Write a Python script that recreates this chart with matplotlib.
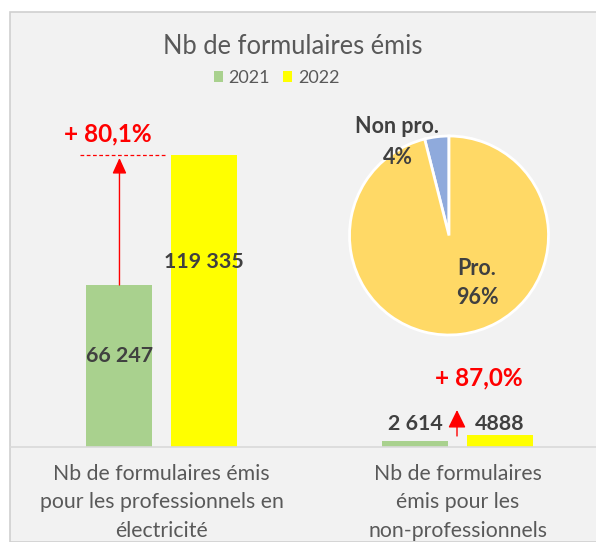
import matplotlib
matplotlib.use("Agg")
import matplotlib.pyplot as plt
from matplotlib.patches import Rectangle

# data
categories = ["Nb de formulaires émis\npour les professionnels en\nélectricité",
              "Nb de formulaires\némis pour les\nnon-professionnels"]
years = ["2021", "2022"]
v2021 = [66247, 2614]
v2022 = [119335, 4888]
labels2021 = ["66 247", "2 614"]
labels2022 = ["119 335", "4888"]
growth = ["+ 80,1%", "+ 87,0%"]
pie_labels = ["Non pro.", "Pro."]
pie_values = [v2022[1], v2022[0]]

green = "#A9D18E"
yellow = "#FFFF00"
red = "#FF0000"
dark = "#404040"
grey = "#595959"

plt.rcParams["font.family"] = ["Lato", "DejaVu Sans"]

W, H = 596, 542
fig = plt.figure(figsize=(W / 100, H / 100), dpi=100)
fig.patch.set_facecolor("white")

# chart area background
fig.patches.append(Rectangle((10 / W, 0), 1, 1 - 12 / H, transform=fig.transFigure,
                             facecolor="#F2F2F2", edgecolor="#D0D0D0", lw=1.2, zorder=-5))

def fx(px):
    return px / W

def fy(py):
    return 1 - py / H

# main bar axes
base = 447
top = 100
ax = fig.add_axes([fx(10), fy(base), fx(596) - fx(10), fy(top) - fy(base)])
ax.patch.set_alpha(0)
ppu = (base - 285) / v2021[0]
ax.set_ylim(0, (base - top) / ppu)
x0, cw = 161.5, 296
ax.set_xlim((10 - x0) / cw, (596 - x0) / cw)

def dx(px, c=0):
    return c + (px - (x0 + cw * c)) / cw

def dy(py):
    return (base - py) / ppu

bw = 0.223
off = 0.142
xs = [0, 1]
ax.bar([x - off for x in xs], v2021, bw, color=green, label=years[0])
ax.bar([x + off for x in xs], v2022, bw, color=yellow, label=years[1])

for s in ["top", "left", "right"]:
    ax.spines[s].set_visible(False)
ax.spines["bottom"].set_color("#D9D9D9")
ax.spines["bottom"].set_linewidth(1.2)
ax.set_yticks([])
ax.set_xticks(xs)
ax.set_xticklabels(categories, fontsize=15.3, color=grey, linespacing=1.55)
ax.tick_params(axis="x", length=0, pad=12)

# value labels
vfs = 15.4
ax.text(-off, dy(356), labels2021[0], ha="center", va="center",
        fontsize=vfs, fontweight="bold", color=dark)
ax.text(off, dy(262), labels2022[0], ha="center", va="center",
        fontsize=vfs, fontweight="bold", color=dark)
ax.text(dx(415.5, 1), dy(423.5), labels2021[1], ha="center", va="center",
        fontsize=vfs, fontweight="bold", color=dark)
ax.text(dx(500, 1), dy(423.5), labels2022[1], ha="center", va="center",
        fontsize=vfs, fontweight="bold", color=dark)

# growth annotations
ax.plot([dx(80), dx(166)], [v2022[0], v2022[0]], color=red,
        lw=0.9, ls=(0, (3, 2)))
ax.annotate("", xy=(-off, dy(158)), xytext=(-off, v2021[0]),
            arrowprops=dict(arrowstyle="-|>,head_width=0.43,head_length=0.95",
                            color=red, lw=1, shrinkA=0, shrinkB=0))
ax.text(dx(107.5), dy(134), growth[0], ha="center", va="center",
        fontsize=17.5, fontweight="bold", color=red)
ax.annotate("", xy=(dx(457, 1), dy(410)), xytext=(dx(457, 1), dy(436)),
            arrowprops=dict(arrowstyle="-|>,head_width=0.54,head_length=1.1",
                            color=red, lw=1, shrinkA=0, shrinkB=0))
ax.text(dx(478.5, 1), dy(378), growth[1], ha="center",
        va="center", fontsize=17.5, fontweight="bold", color=red)

# title and legend
fig.text(fx(293), fy(46), "Nb de formulaires émis", ha="center", va="center",
         fontsize=18.4, color=grey)
leg = fig.legend(loc="center", bbox_to_anchor=(fx(276.5), fy(78)), ncol=2, frameon=False,
                 fontsize=13, handlelength=0.5, handleheight=0.5, handletextpad=0.3,
                 columnspacing=0.75, labelcolor=grey)

# pie
cx, cy, r = 449, 235.5, 101.5
pax = fig.add_axes([fx(cx - r), fy(cy + r), fx(2 * r), fy(0) - fy(2 * r)])
pax.pie(pie_values, colors=["#8FAADC", "#FFD966"], startangle=90,
        counterclock=True, wedgeprops=dict(edgecolor="white", linewidth=2))
pax.set_xlim(-1.02, 1.02)
pax.set_ylim(-1.02, 1.02)
pax.set_aspect("equal")
pax.axis("off")
tot = sum(pie_values)
pfs = 15.5
pax.text(-0.525, 1.10, pie_labels[0], ha="center", va="center", fontsize=pfs,
         fontweight="bold", color=dark)
pax.text(-0.51, 0.78, f"{pie_values[0] / tot:.0%}", ha="center", va="center",
         fontsize=pfs, fontweight="bold", color=dark)
pax.text(0.28, -0.33, pie_labels[1], ha="center", va="center", fontsize=pfs,
         fontweight="bold", color=dark)
pax.text(0.29, -0.62, f"{pie_values[1] / tot:.0%}", ha="center", va="center",
         fontsize=pfs, fontweight="bold", color=dark)

fig.savefig("out.png", dpi=100)
